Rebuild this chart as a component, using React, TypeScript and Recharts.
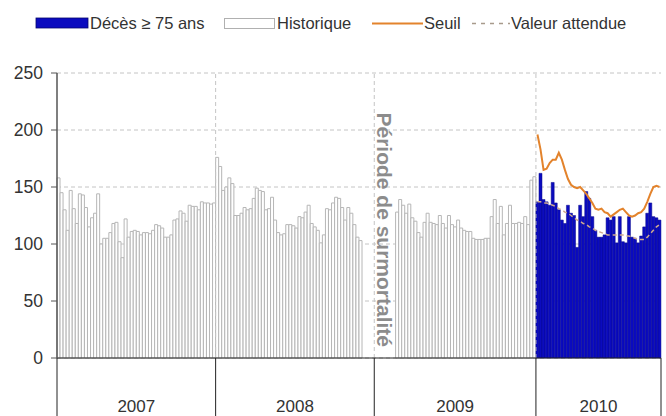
import React from 'react';
import {
    ComposedChart,
    Bar,
    Line,
    XAxis,
    YAxis,
    CartesianGrid,
    ReferenceLine,
} from 'recharts';

// weekly deaths, people aged 75 and over
const HIST_2007 = [
    158, 145, 130, 112, 147, 131, 118, 144, 143, 132,
    115, 123, 127, 144, 100, 105, 105, 110, 118, 119,
    102, 88, 122, 106, 111, 112, 111, 108, 110, 110,
    109, 112, 117, 116, 114, 106, 106, 108, 121, 122,
    129, 127, 120, 134, 133, 133, 130, 137, 136, 136,
    135, 136,
];
// last weeks of 2008 / first weeks of 2009 are the excess mortality period (no history)
const HIST_2008 = [
    176, 168, 147, 150, 158, 153, 125, 125, 127, 132,
    130, 131, 140, 149, 147, 146, 130, 131, 141, 121,
    110, 108, 109, 117, 117, 116, 114, 124, 123, 128,
    134, 118, 115, 112, 101, 108, 131, 130, 136, 141,
    140, 132, 121, 132, 127, 117, 106, 103, null, null,
    null, null,
];
const HIST_2009 = [
    null, null, null, null, null, null, null, 128, 139, 134,
    127, 135, 123, 120, 110, 106, 119, 127, 119, 118,
    117, 125, 118, 114, 125, 117, 115, 121, 114, 112,
    111, 111, 105, 104, 104, 104, 105, 105, 124, 139,
    118, 133, 108, 118, 134, 118, 118, 119, 118, 124,
    117, 156, 159,
];
const DECES_2010 = [
    137, 162, 139, 137, 134, 154, 136, 130, 121, 118,
    134, 127, 125, 97, 134, 124, 146, 140, 124, 112,
    106, 106, 108, 123, 121, 124, 101, 124, 102, 101,
    124, 106, 105, 101, 107, 115, 127, 136, 124, 123,
    121,
];
const SEUIL_2010 = [
    196, 183, 165, 166, 171, 174, 174, 180, 174, 165,
    157, 152, 150, 149, 150, 147, 144, 140, 136, 131,
    130, 131, 128, 127, 124, 126, 128, 130, 131, 128,
    125, 124, 125, 127, 128, 131, 137, 144, 150, 151,
    150,
];
const ATTENDU_2010 = [
    137, 137, 136, 136, 135, 134, 133, 131, 130, 128,
    127, 125, 123, 121, 120, 118, 117, 115, 114, 112,
    111, 110, 109, 108, 108, 108, 108, 108, 108, 107,
    107, 106, 105, 104, 104, 104, 106, 109, 112, 115,
    117,
];
const Y_TICKS = [0, 50, 100, 150, 200, 250];
const PERIOD_LABEL = 'Période de surmortalité';

const FONT = '"Liberation Sans", Arial, sans-serif';
const BLUE = '#0b0bbf';
const ORANGE = '#e3832c';
const EXPECTED = '#cfa98f';
const GRID = '#c4c4c4';

type Row = {
    key: string;
    year: number;
    week: number;
    hist: number | null;
    deces: number | null;
    seuil: number | null;
    attendu: number | null;
};

const rows: Row[] = [];
const yearLength: Record<number, number> = {};

const addYear = (
    year: number,
    hist: (number | null)[] | null,
    deces?: number[],
    seuil?: number[],
    attendu?: number[],
) => {
    const n = hist ? hist.length : deces!.length;
    yearLength[year] = n;
    for (let i = 0; i < n; i++) {
        rows.push({
            key: `${year}-${String(i + 1).padStart(2, '0')}`,
            year,
            week: i + 1,
            hist: hist ? hist[i] : null,
            deces: deces ? deces[i] : null,
            seuil: seuil ? seuil[i] : null,
            attendu: attendu ? attendu[i] : null,
        });
    }
};

addYear(2007, HIST_2007);
addYear(2008, HIST_2008);
addYear(2009, HIST_2009);
addYear(2010, null, DECES_2010, SEUIL_2010, ATTENDU_2010);

const rowByKey = new Map(rows.map((r) => [r.key, r]));
const lastKey = rows[rows.length - 1].key;

const YearTick = (props: any) => {
    const { x, y, payload } = props;
    const row = rowByKey.get(payload.value);
    if (!row) return null;
    const off = payload.offset ?? 0;
    const parts: React.ReactNode[] = [];
    if (row.week === 1) {
        const start = x - off;
        parts.push(
            <line key="sep" x1={start} x2={start} y1={y} y2={y + 60} stroke="#222" strokeWidth={1} />,
        );
        parts.push(
            <text
                key="lbl"
                x={start + yearLength[row.year] * off}
                y={y + 54}
                textAnchor="middle"
                fontSize={17}
                fill="#333"
                fontFamily={FONT}
            >
                {row.year}
            </text>,
        );
    }
    if (row.key === lastKey) {
        parts.push(
            <line key="end" x1={x + off} x2={x + off} y1={y} y2={y + 60} stroke="#222" strokeWidth={1} />,
        );
    }
    return <g>{parts}</g>;
};

const PeriodLabel = (props: any) => {
    const vb = props.viewBox;
    const cx = vb.x;
    const cy = vb.y + vb.height * 0.55;
    return (
        <text
            x={cx}
            y={cy}
            transform={`rotate(90 ${cx} ${cy})`}
            textAnchor="middle"
            dominantBaseline="central"
            fontSize={21}
            fontWeight="bold"
            fill="#8c8c8c"
            fontFamily={FONT}
        >
            {PERIOD_LABEL}
        </text>
    );
};

const Legend = () => (
    <svg width={666} height={45} style={{ position: 'absolute', left: 0, top: 0 }}>
        <g fontFamily={FONT} fontSize={16.5} fill="#333">
            <rect x={36} y={18} width={52} height={10} fill={BLUE} stroke="#06066e" strokeWidth={0.8} />
            <text x={90} y={23} dominantBaseline="central">Décès ≥ 75 ans</text>
            <rect x={224.5} y={18.5} width={50} height={10} fill="#fff" stroke="#b0b0b0" />
            <text x={277} y={23} dominantBaseline="central">Historique</text>
            <line x1={372} x2={423} y1={23.5} y2={23.5} stroke={ORANGE} strokeWidth={2} />
            <text x={424} y={23} dominantBaseline="central">Seuil</text>
            <line x1={472} x2={510} y1={23.5} y2={23.5} stroke="#a89a8c" strokeWidth={1.5} strokeDasharray="4 5" />
            <text x={511} y={23} dominantBaseline="central">Valeur attendue</text>
        </g>
    </svg>
);

export default function App() {
    return (
        <div
            style={{
                position: 'absolute',
                left: 0,
                top: 0,
                width: 666,
                height: 416,
                background: '#fff',
                overflow: 'hidden',
            }}
        >
            <ComposedChart
                width={666}
                height={416}
                data={rows}
                margin={{ top: 73, right: 5, left: 0, bottom: 0 }}
                barCategoryGap={0}
                barGap={0}
                style={{ fontFamily: FONT }}
            >
                <CartesianGrid vertical={false} stroke={GRID} strokeDasharray="4 3" />
                <XAxis
                    dataKey="key"
                    interval={0}
                    height={58}
                    tickLine={false}
                    tickSize={0}
                    tickMargin={0}
                    axisLine={{ stroke: '#222', strokeWidth: 1 }}
                    tick={<YearTick />}
                />
                <YAxis
                    domain={[0, 250]}
                    ticks={Y_TICKS}
                    width={57}
                    tickSize={6}
                    tickMargin={8}
                    axisLine={{ stroke: '#555', strokeWidth: 1.5 }}
                    tickLine={{ stroke: '#555' }}
                    tick={{ fill: '#333', fontSize: 17.5, fontFamily: FONT }}
                />
                {['2008-01', '2009-01', '2010-01'].map((k) => (
                    <ReferenceLine
                        key={k}
                        x={k}
                        position="start"
                        stroke={GRID}
                        strokeDasharray="4 3"
                    />
                ))}
                <Bar
                    dataKey="hist"
                    stackId="s"
                    fill="#fff"
                    stroke="#b6b6b6"
                    strokeWidth={1}
                    isAnimationActive={false}
                />
                <Bar
                    dataKey="deces"
                    stackId="s"
                    fill={BLUE}
                    stroke="#08088a"
                    strokeWidth={0.5}
                    isAnimationActive={false}
                />
                <Line
                    dataKey="attendu"
                    stroke={EXPECTED}
                    strokeWidth={1.5}
                    strokeDasharray="4 3"
                    dot={false}
                    activeDot={false}
                    isAnimationActive={false}
                />
                <Line
                    dataKey="seuil"
                    stroke={ORANGE}
                    strokeWidth={2}
                    dot={false}
                    activeDot={false}
                    isAnimationActive={false}
                />
                <ReferenceLine x="2009-04" stroke="none" label={<PeriodLabel />} />
            </ComposedChart>
            <Legend />
        </div>
    );
}
